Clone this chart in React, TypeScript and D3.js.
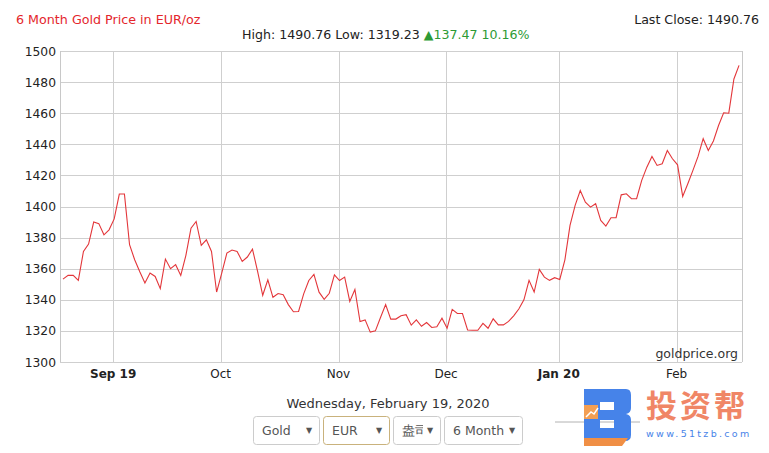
import * as d3 from "d3";

// EUR/oz gold price, one value per weekday starting Mon 19 Aug 2019
const START_DATE = "2019-08-19";
const PRICES = [
  1353.29, 1355.7, 1355.7, 1352.5, 1371.1, 1375.8, 1390.0, 1389.0, 1381.8, 1385.0,
  1392.0, 1408.0, 1408.0, 1375.4, 1365.8, 1358.0, 1350.8, 1357.2, 1355.0, 1347.2,
  1366.2, 1360.0, 1362.6, 1355.7, 1368.6, 1386.0, 1390.4, 1375.0, 1378.6, 1371.1,
  1345.0, 1357.2, 1370.0, 1372.0, 1371.1, 1364.7, 1367.5, 1372.6, 1358.3, 1342.9,
  1352.9, 1341.6, 1344.0, 1343.3, 1336.9, 1332.3, 1332.5, 1343.8, 1352.4, 1356.3,
  1344.9, 1340.3, 1344.2, 1356.1, 1352.4, 1354.6, 1339.0, 1346.6, 1326.0, 1327.1,
  1319.23, 1320.0, 1328.6, 1336.9, 1327.6, 1327.6, 1329.7, 1330.4, 1323.7, 1327.1,
  1323.0, 1325.4, 1322.2, 1322.6, 1328.2, 1321.7, 1333.8, 1331.2, 1331.2, 1320.6,
  1320.4, 1320.4, 1324.8, 1321.7, 1327.8, 1323.9, 1323.9, 1326.1, 1329.7, 1334.1,
  1340.0, 1352.5, 1345.0, 1359.5, 1354.6, 1352.5, 1354.2, 1353.1, 1365.7, 1387.8,
  1400.7, 1410.3, 1402.8, 1399.6, 1401.8, 1391.0, 1387.4, 1392.8, 1392.8, 1407.5,
  1408.2, 1405.0, 1405.0, 1416.8, 1425.3, 1432.2, 1426.4, 1427.5, 1436.0, 1430.7,
  1426.8, 1406.5, 1414.6, 1423.2, 1432.2, 1443.6, 1436.0, 1442.1, 1452.1, 1460.3,
  1460.0, 1482.0, 1490.76,
];
const Y_TICKS = [1300, 1320, 1340, 1360, 1380, 1400, 1420, 1440, 1460, 1480, 1500];
const MONTH_LABELS = ["Sep 19", "Oct", "Nov", "Dec", "Jan 20", "Feb"];

const TITLE = "6 Month Gold Price in EUR/oz";
const LAST_CLOSE = "Last Close: 1490.76";
const STATS_LEFT = "High: 1490.76 Low: 1319.23 ";
const STATS_CHANGE = "\u25B2137.47 10.16%";
const DATE_TEXT = "Wednesday, February 19, 2020";
const SELECTS = ["Gold", "EUR", "盎司", "6 Month"];

const FONT = "'DejaVu Sans', Verdana, sans-serif";

function weekdayDates(start: string, n: number): Date[] {
  const out: Date[] = [];
  const d = new Date(start + "T00:00:00");
  while (out.length < n) {
    const wd = d.getDay();
    if (wd !== 0 && wd !== 6) out.push(new Date(d));
    d.setDate(d.getDate() + 1);
  }
  return out;
}

export default function App() {
  const W = 769;
  const H = 453;
  const left = 60;
  const right = 742;
  const top = 51;
  const bottom = 362;

  const n = PRICES.length;
  const dates = weekdayDates(START_DATE, n);
  const x = d3.scaleLinear().domain([-0.58, n - 1 + 0.58]).range([left, right]);
  const y = d3.scaleLinear().domain([1300, 1500]).range([bottom, top]);

  // first weekday of each new month gets a gridline
  const monthIdx: number[] = [];
  dates.forEach((d, i) => {
    if (i > 0 && d.getMonth() !== dates[i - 1].getMonth()) monthIdx.push(i);
  });

  const line = d3
    .line<number>()
    .x((_, i) => x(i))
    .y((v) => y(v));

  const crisp = (v: number) => Math.round(v) + 0.5;

  // select boxes below the chart
  const boxes = [
    { x: 253, w: 66 },
    { x: 323, w: 66 },
    { x: 393, w: 47 },
    { x: 444, w: 78 },
  ];

  return (
    <svg
      width={W}
      height={H}
      style={{ position: "absolute", left: 0, top: 0, background: "#fff" }}
      fontFamily={FONT}
    >
      <text x={16} y={24} fontSize={12.7} fill="#e4262c">
        {TITLE}
      </text>
      <text x={759} y={24} fontSize={12.6} fill="#222" textAnchor="end">
        {LAST_CLOSE}
      </text>
      <text x={242} y={39} fontSize={12.6} fill="#222">
        {STATS_LEFT}
        <tspan fill="#2d9a35">{STATS_CHANGE}</tspan>
      </text>

      {/* grid */}
      {Y_TICKS.map((t) => (
        <line
          key={"h" + t}
          x1={left}
          x2={right}
          y1={crisp(y(t))}
          y2={crisp(y(t))}
          stroke="#cfcfcf"
        />
      ))}
      {monthIdx.map((i) => (
        <line
          key={"v" + i}
          x1={crisp(x(i - 0.2))}
          x2={crisp(x(i - 0.2))}
          y1={top}
          y2={bottom}
          stroke="#cfcfcf"
        />
      ))}
      <line x1={crisp(left)} x2={crisp(left)} y1={top} y2={bottom} stroke="#c8c8c8" />
      <line x1={crisp(right)} x2={crisp(right)} y1={top} y2={bottom} stroke="#c8c8c8" />

      {/* y labels */}
      {Y_TICKS.map((t) => (
        <text
          key={"yl" + t}
          x={56}
          y={y(t) + 4.5}
          fontSize={12.3}
          fill="#222"
          textAnchor="end"
        >
          {t}
        </text>
      ))}

      {/* x labels */}
      {monthIdx.map((i, k) => (
        <text
          key={"xl" + i}
          x={x(i - 0.2)}
          y={378}
          fontSize={12}
          fill="#222"
          textAnchor="middle"
          fontWeight={MONTH_LABELS[k].includes(" ") ? "bold" : "normal"}
        >
          {MONTH_LABELS[k]}
        </text>
      ))}

      <path d={line(PRICES) ?? ""} fill="none" stroke="#e3363a" strokeWidth={1.1} />

      <text x={738} y={358} fontSize={12.5} fill="#333" textAnchor="end">
        goldprice.org
      </text>

      <text x={388} y={408} fontSize={13} fill="#333" textAnchor="middle">
        {DATE_TEXT}
      </text>

      {boxes.map((b, i) => (
        <g key={"sel" + i}>
          <rect
            x={b.x + 0.5}
            y={416.5}
            width={b.w}
            height={28}
            rx={3}
            fill="#fff"
            stroke={i === 1 ? "#c9b27c" : "#cccccc"}
          />
          <clipPath id={"clip" + i}>
            <rect x={b.x + 4} y={416} width={b.w - 21} height={28} />
          </clipPath>
          <text
            x={b.x + 9}
            y={435}
            fontSize={12.5}
            fill="#555"
            clipPath={`url(#clip${i})`}
          >
            {SELECTS[i]}
          </text>
          <text x={b.x + b.w - 10} y={433} fontSize={8} fill="#555" textAnchor="middle">
            {"\u25BC"}
          </text>
        </g>
      ))}

      {/* watermark */}
      <g opacity={0.95}>
        <line x1={555} x2={640} y1={422} y2={422} stroke="#9a9a9a" strokeWidth={0.8} />
        <path
          d="M584,389 L626,389 Q631,389 631,395 L631,408 Q631,413 626,414 Q631,415 631,420 L631,435 Q631,441 625,441 L584,441 Z M600,402 L600,410 L614,410 L614,402 Z M600,420 L600,428 L614,428 L614,420 Z"
          fill="#3d7de8"
          fillRule="evenodd"
        />
        <path d="M584,438 L628,438 L622,446 L584,446 Z" fill="#f08a3c" />
        <rect x={584} y={405} width={14} height={14} fill="#f39a4a" />
        <path d="M586,417 L591,412 L594,414 L598,408" stroke="#fff" strokeWidth={1.5} fill="none" />
        <text x={646} y={417} fontSize={31} fill="#f0805e" fontWeight="bold" fontFamily="'Noto Sans CJK SC', sans-serif" letterSpacing={3}>
          投资帮
        </text>
        <text x={646} y={437} fontSize={9.5} fill="#3d7de8" letterSpacing={2.3}>
          www.51tzb.com
        </text>
      </g>
    </svg>
  );
}
